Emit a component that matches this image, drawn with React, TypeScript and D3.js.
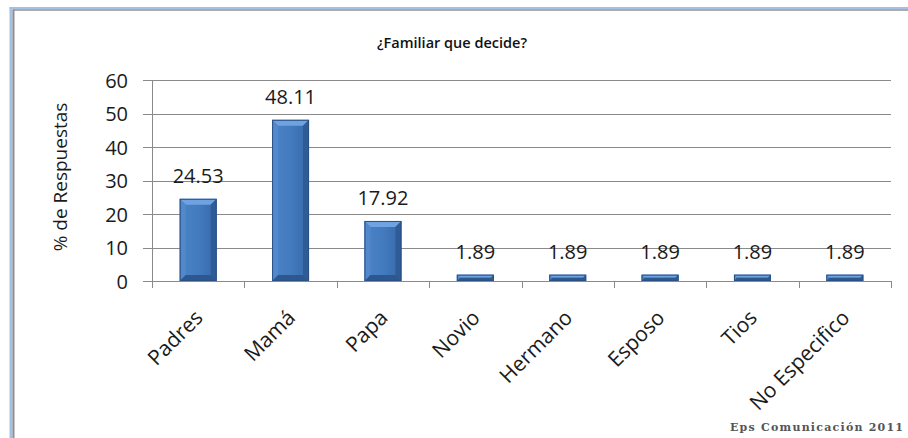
import React from "react";
import { scaleBand, scaleLinear } from "d3";

// chart data
const categories = ["Padres", "Mamá", "Papa", "Novio", "Hermano", "Esposo", "Tios", "No Especifico"];
const values = [24.53, 48.11, 17.92, 1.89, 1.89, 1.89, 1.89, 1.89];
const yTicks = [0, 10, 20, 30, 40, 50, 60];
const title = "¿Familiar que decide?";
const yTitle = "% de Respuestas";
const credit = "Eps Comunicación 2011";

const W = 908;
const H = 438;
const plot = { left: 152, right: 891, top: 80, bottom: 281 };
const font = "'Open Sans', sans-serif";
const gridColor = "#8a8a8a";

function Bar({ x, y, w, h }: { x: number; y: number; w: number; h: number }) {
    const b = Math.min(6, h / 2, w / 2);
    const x2 = x + w;
    const y2 = y + h;
    return (
        <g>
            <rect x={x} y={y} width={w} height={h} fill="url(#barGrad)" />
            {/* bevels */}
            <polygon points={`${x},${y} ${x2},${y} ${x2 - b},${y + b} ${x + b},${y + b}`} fill="#6fa2e1" />
            <polygon points={`${x},${y} ${x + b},${y + b} ${x + b},${y2 - b} ${x},${y2}`} fill="#5189cc" />
            <polygon points={`${x2},${y} ${x2},${y2} ${x2 - b},${y2 - b} ${x2 - b},${y + b}`} fill="#2f5c96" />
            <polygon points={`${x},${y2} ${x + b},${y2 - b} ${x2 - b},${y2 - b} ${x2},${y2}`} fill="#2d578e" />
            <rect x={x + 0.5} y={y + 0.5} width={w - 1} height={h - 1} fill="none" stroke="#2b5184" strokeWidth={1} />
        </g>
    );
}

export default function App() {
    const xScale = scaleBand<string>()
        .domain(categories)
        .range([plot.left, plot.right])
        .paddingInner(0.6)
        .paddingOuter(0.3);
    const step = xScale.step();

    const yScale = scaleLinear().domain([0, 60]).range([plot.bottom, plot.top]);

    // boundaries between categories for the bottom ticks
    const boundaries = categories.map((c) => (xScale(c) as number) - step * 0.3);
    boundaries.push(plot.right);

    return (
        <svg width={W} height={H} style={{ position: "absolute", left: 0, top: 0, background: "#fff" }}>
            <defs>
                <linearGradient id="barGrad" x1="0" x2="1" y1="0" y2="0">
                    <stop offset="0" stopColor="#4c83c7" />
                    <stop offset="0.5" stopColor="#437bbf" />
                    <stop offset="1" stopColor="#3669a9" />
                </linearGradient>
            </defs>

            {/* frame */}
            <line x1={11} x2={11} y1={7} y2={H} stroke="#a3c0e8" strokeWidth={3} />
            <line x1={9.5} x2={W} y1={8} y2={8} stroke="#a3c0e8" strokeWidth={2} />
            <line x1={13.5} x2={13.5} y1={9.5} y2={H} stroke="#8f8f8f" strokeWidth={2} />
            <line x1={13} x2={W} y1={10} y2={10} stroke="#8f8f8f" strokeWidth={1.5} />

            <text x={452} y={48} textAnchor="middle" fontFamily={font} fontWeight="600" fontSize={14.5} fill="#111">
                {title}
            </text>

            {/* gridlines + y ticks */}
            {yTicks.map((t) => (
                <g key={t}>
                    <line x1={plot.left - 9} x2={plot.right} y1={Math.round(yScale(t)) + 0.5} y2={Math.round(yScale(t)) + 0.5} stroke={gridColor} strokeWidth={1} />
                    <text x={128} y={yScale(t)} textAnchor="end" dominantBaseline="central" fontFamily={font} fontSize={20} fill="#1a1a1a">
                        {t}
                    </text>
                </g>
            ))}
            <line x1={plot.left + 0.5} x2={plot.left + 0.5} y1={plot.top} y2={plot.bottom} stroke={gridColor} />
            {boundaries.map((bx, i) => (
                <line key={i} x1={Math.round(bx) + 0.5} x2={Math.round(bx) + 0.5} y1={plot.bottom} y2={plot.bottom + 7} stroke={gridColor} />
            ))}

            <text transform={`translate(60, 177) rotate(-90)`} textAnchor="middle" dominantBaseline="central" fontFamily={font} fontSize={19} fill="#1a1a1a">
                {yTitle}
            </text>

            {/* bars + value labels */}
            {categories.map((c, i) => {
                const x = xScale(c) as number;
                const y = yScale(values[i]);
                return (
                    <g key={c}>
                        <Bar x={x} y={y} w={xScale.bandwidth()} h={plot.bottom - y} />
                        <text x={x + xScale.bandwidth() / 2} y={y - 16} textAnchor="middle" fontFamily={font} fontSize={20} fill="#1a1a1a">
                            {values[i].toFixed(2)}
                        </text>
                    </g>
                );
            })}

            {/* category labels */}
            {categories.map((c) => {
                const cx = (xScale(c) as number) + xScale.bandwidth() / 2;
                return (
                    <text key={c} transform={`translate(${cx + 6}, 319) rotate(-45)`} textAnchor="end" fontFamily={font} fontSize={21} fill="#1a1a1a">
                        {c}
                    </text>
                );
            })}

            <text x={903} y={431} textAnchor="end" fontFamily="'DejaVu Serif', serif" fontWeight="bold" fontSize={11} fill="#555" textLength={173} lengthAdjust="spacing">
                {credit}
            </text>
        </svg>
    );
}
